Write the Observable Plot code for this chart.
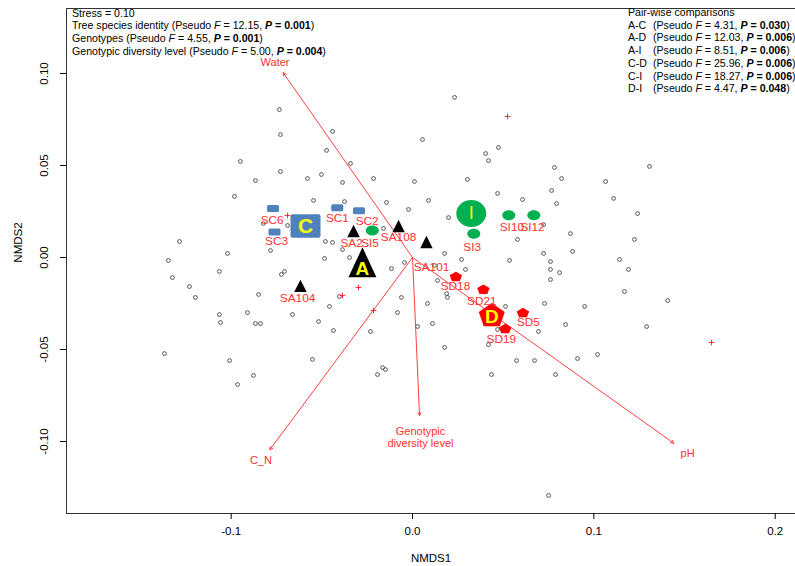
<!DOCTYPE html>
<html><head><meta charset="utf-8">
<script src="https://cdn.jsdelivr.net/npm/d3@7"></script>
<script src="https://cdn.jsdelivr.net/npm/@observablehq/plot@0.6"></script>
<style>
html,body{margin:0;padding:0;background:#fff;overflow:hidden;}
#wrap{position:relative;width:795px;height:566px;overflow:hidden;font-family:"Liberation Sans",Arial,sans-serif;}
.note{position:absolute;font-size:10.6px;line-height:12.7px;color:#000;white-space:nowrap;}
.note .lab{display:inline-block;width:25px;}
</style></head>
<body><div id="wrap"></div>
<script>
// ---- data ----
const siteX = [-0.0734,-0.0728,-0.0441,-0.0474,-0.0949,-0.0728,-0.0342,-0.0866,-0.0579,-0.0502,-0.0386,-0.0215,-0.0982,-0.0546,-0.0375,-0.0143,-0.0022,0.0011,-0.0822,-0.0689,-0.0480,-0.0441,-0.0160,-0.1285,-0.1020,-0.0783,-0.0386,-0.0485,-0.0347,-0.1346,-0.1065,-0.0723,-0.0706,-0.1324,-0.0116,-0.0044,-0.1230,-0.1197,-0.0849,-0.1065,-0.1059,-0.0910,-0.0866,-0.0838,-0.0662,-0.0518,-0.0458,-0.0403,-0.0436,-0.0232,-0.0061,-0.0083,-0.1368,-0.1009,-0.0877,-0.0965,-0.0552,-0.0193,-0.0165,-0.0149,0.0232,0.0055,0.0403,0.0419,0.0474,0.0783,0.0822,0.0303,0.1065,0.1307,0.0469,0.0607,0.0767,0.0794,0.1109,0.1241,0.0088,0.0199,0.0723,0.0871,0.0579,0.1224,0.0723,0.0883,0.0177,0.0121,0.0270,0.0292,0.0535,0.0761,0.0761,0.0811,0.1142,0.1191,0.0761,0.0138,0.0188,0.0193,0.0083,0.0028,0.0110,0.0177,0.0513,0.0728,0.0949,0.1169,0.1407,0.0844,0.0695,0.1291,0.0469,0.0419,0.0574,0.0673,0.0910,0.1020,0.0436,0.0789,0.0750];
const siteY = [0.0804,0.0668,0.0685,0.0582,0.0522,0.0467,0.0511,0.0418,0.0429,0.0451,0.0408,0.0429,0.0332,0.0310,0.0304,0.0299,0.0261,0.0413,0.0185,0.0174,0.0087,0.0082,0.0158,0.0087,0.0022,0.0038,0.0043,-0.0005,0.0000,-0.0016,-0.0076,-0.0092,-0.0076,-0.0109,-0.0060,-0.0027,-0.0158,-0.0217,-0.0201,-0.0310,-0.0353,-0.0299,-0.0359,-0.0359,-0.0310,-0.0348,-0.0266,-0.0212,-0.0397,-0.0402,-0.0217,-0.0299,-0.0522,-0.0560,-0.0641,-0.0690,-0.0554,-0.0636,-0.0598,-0.0609,0.0870,0.0641,0.0565,0.0527,0.0598,0.0489,0.0429,0.0424,0.0413,0.0495,0.0348,0.0315,0.0364,0.0293,0.0321,0.0239,0.0310,0.0217,0.0179,0.0130,0.0098,0.0098,0.0022,0.0033,0.0022,-0.0043,-0.0011,-0.0065,-0.0016,-0.0022,-0.0065,-0.0082,-0.0011,-0.0065,-0.0120,-0.0125,-0.0196,-0.0217,-0.0250,-0.0375,-0.0359,-0.0489,-0.0266,-0.0250,-0.0266,-0.0185,-0.0234,-0.0364,-0.0402,-0.0375,-0.0391,-0.0473,-0.0560,-0.0560,-0.0549,-0.0527,-0.0636,-0.0636,-0.1293];

const plusX = [-0.0689,0.0524,0.1649,-0.0298,-0.0215,-0.0386];
const plusY = [0.0228,0.0766,-0.0462,-0.0163,-0.0288,-0.0207];

const sampleNames = ["SC6","SC3","SC1","SC2","SA2","SA108","SA104","SA101","SI5","SI3","SI10","SI12","SD18","SD21","SD5","SD19"];
const sampleX = [-0.0769,-0.0761,-0.0415,-0.0295,-0.0325,-0.0077,-0.0618,0.0077,-0.0222,0.0338,0.0531,0.0669,0.0239,0.0391,0.0609,0.0511];
const sampleY = [0.0266,0.0139,0.0270,0.0254,0.0144,0.0171,-0.0154,0.0084,0.0147,0.0129,0.0230,0.0230,-0.0103,-0.0172,-0.0299,-0.0386];
const sampleLabelX = [-0.0774,-0.0750,-0.0414,-0.0250,-0.0336,-0.0077,-0.0634,0.0105,-0.0234,0.0329,0.0548,0.0662,0.0237,0.0382,0.0639,0.0490];
const sampleLabelY = [0.0203,0.0090,0.0212,0.0198,0.0075,0.0111,-0.0221,-0.0054,0.0079,0.0056,0.0165,0.0165,-0.0158,-0.0235,-0.0353,-0.0442];

const groupNames = ["C","A","I","D"];
const groupX = [-0.0590,-0.0276,0.0324,0.0437];
const groupY = [0.0171,-0.0026,0.0239,-0.0311];

const envNames = ["Water","C_N","Genotypic\ndiversity level","pH"];
const envX = [-0.0713,-0.0787,0.0039,0.1441];
const envY = [0.1004,-0.1045,-0.0859,-0.1009];
const envLabelX = [-0.0758,-0.0836,0.0044,0.1517];
const envLabelY = [0.1060,-0.1103,-0.0978,-0.1065];

const xTicks = [-0.1,0,0.1,0.2];
const yTicks = [-0.10,-0.05,0,0.05,0.10];

const statLabels = ["Stress = 0.10","Tree species identity","Genotypes","Genotypic diversity level"];
const statF = [null,"12.15","4.55","5.00"];
const statP = [null,"0.001","0.001","0.004"];
const pairNames = ["A-C","A-D","A-I","C-D","C-I","D-I"];
const pairF = ["4.31","12.03","8.51","25.96","18.27","4.47"];
const pairP = ["0.030","0.006","0.006","0.006","0.006","0.048"];

// ---- colours ----
const BLUE = "#4F81BD", GREEN = "#00B050", RED = "#FF0000", LABRED = "#FF3030", YELLOW = "#FFFF00";

// ---- custom marker shapes (r = half width) ----
function rectSym(aspect, c) {
  return {draw(ctx, size) {
    const w = Math.sqrt(size / Math.PI), h = w * aspect;
    ctx.moveTo(-w + c, -h);
    ctx.arcTo(w, -h, w, h, c); ctx.arcTo(w, h, -w, h, c);
    ctx.arcTo(-w, h, -w, -h, c); ctx.arcTo(-w, -h, w, -h, c);
    ctx.closePath();
  }};
}
function triSym(aspect) {
  return {draw(ctx, size) {
    const w = Math.sqrt(size / Math.PI), h = w * aspect;
    ctx.moveTo(0, -h); ctx.lineTo(w, h); ctx.lineTo(-w, h); ctx.closePath();
  }};
}
function ellSym(aspect) {
  return {draw(ctx, size) {
    const rx = Math.sqrt(size / Math.PI), ry = rx * aspect, k = 0.5523;
    ctx.moveTo(rx, 0);
    ctx.bezierCurveTo(rx, ry * k, rx * k, ry, 0, ry);
    ctx.bezierCurveTo(-rx * k, ry, -rx, ry * k, -rx, 0);
    ctx.bezierCurveTo(-rx, -ry * k, -rx * k, -ry, 0, -ry);
    ctx.bezierCurveTo(rx * k, -ry, rx, -ry * k, rx, 0);
    ctx.closePath();
  }};
}
function pentSym(vs) {
  return {draw(ctx, size) {
    const w = Math.sqrt(size / Math.PI), R = w / Math.sin(72 * Math.PI / 180);
    const shift = 0.0955 * R * vs;
    for (let k = 0; k < 5; k++) {
      const a = (-90 + 72 * k) * Math.PI / 180;
      const px = R * Math.cos(a), py = R * Math.sin(a) * vs + shift;
      k ? ctx.lineTo(px, py) : ctx.moveTo(px, py);
    }
    ctx.closePath();
  }};
}

const sites = siteX.map((x, i) => ({x, y: siteY[i]}));
const pluses = plusX.map((x, i) => ({x, y: plusY[i]}));
const samples = sampleNames.map((name, i) => ({name, group: name[1], x: sampleX[i], y: sampleY[i], lx: sampleLabelX[i], ly: sampleLabelY[i]}));
const groups = groupNames.map((g, i) => ({group: g, x: groupX[i], y: groupY[i]}));
const envs = envNames.map((name, i) => ({name, x: envX[i], y: envY[i], lx: envLabelX[i], ly: envLabelY[i]}));
const sg = g => samples.filter(d => d.group === g);
const gg = g => groups.filter(d => d.group === g);

const xDomain = [-0.1908, 0.2112], yDomain = [-0.1391, 0.1353];

const chart = Plot.plot({
  width: 795, height: 566,
  marginLeft: 66, marginRight: 0, marginTop: 8, marginBottom: 53,
  x: {domain: xDomain},
  y: {domain: yDomain},
  style: {fontFamily: "'Liberation Sans', Arial, sans-serif", background: "#fff", color: "#000"},
  marks: [
    Plot.ruleX([xDomain[0]], {stroke: "#333"}),
    Plot.ruleY([yDomain[0], yDomain[1]], {stroke: "#333"}),
    Plot.axisX({ticks: xTicks, tickSize: 6, tickPadding: 7, fontSize: 11.5, tickFormat: d => d.toFixed(1), label: null}),
    Plot.axisY({ticks: yTicks, tickSize: 6, tickFormat: () => "", label: null}),
    Plot.text(yTicks, {y: d => d, frameAnchor: "left", dx: -22, rotate: -90, textAnchor: "middle", lineAnchor: "middle", text: d => d.toFixed(2), fontSize: 11.5}),
    Plot.text(["NMDS1"], {frameAnchor: "bottom", dy: 45, lineAnchor: "middle", textAnchor: "middle", fontSize: 11.5}),
    Plot.text(["NMDS2"], {frameAnchor: "top-left", dx: -48, dy: 234, rotate: -90, textAnchor: "middle", lineAnchor: "middle", fontSize: 11.5}),
    // site scores
    Plot.dot(sites, {x: "x", y: "y", r: 1.9, stroke: "#444", strokeWidth: 0.9, fill: "none"}),
    // environmental vectors
    Plot.arrow(envs, {x1: () => 0, y1: () => 0, x2: "x", y2: "y", stroke: "#FF4040", strokeWidth: 1, headLength: 5, headAngle: 55}),
    Plot.dot(pluses, {x: "x", y: "y", r: 2, symbol: "plus", stroke: RED, strokeWidth: 0.8}),
    // samples
    Plot.dot(sg("C"), {x: "x", y: "y", r: 6, symbol: rectSym(0.583, 1.5), fill: BLUE}),
    Plot.dot(sg("A"), {x: "x", y: "y", r: 6.25, symbol: triSym(0.99), fill: "#000"}),
    Plot.dot(sg("I"), {x: "x", y: "y", r: 6.5, symbol: ellSym(0.77), fill: GREEN}),
    Plot.dot(sg("D"), {x: "x", y: "y", r: 6.25, symbol: pentSym(0.8), fill: RED}),
    // group centroids
    Plot.dot(gg("C"), {x: "x", y: "y", r: 15, symbol: rectSym(0.78, 2), fill: BLUE}),
    Plot.dot(gg("A"), {x: "x", y: "y", r: 14, symbol: triSym(1.07), fill: "#000"}),
    Plot.dot(gg("I"), {x: "x", y: "y", r: 15, symbol: ellSym(0.9), fill: GREEN}),
    Plot.dot(gg("D"), {x: "x", y: "y", r: 13, symbol: pentSym(0.94), fill: RED}),
    Plot.text(gg("C"), {x: "x", y: "y", text: "group", fill: YELLOW, fontSize: 21, fontWeight: "bold"}),
    Plot.text(gg("A"), {x: "x", y: "y", text: "group", fill: YELLOW, fontSize: 19, fontWeight: "bold", dy: 7}),
    Plot.text(gg("I"), {x: "x", y: "y", text: "group", fill: YELLOW, fontSize: 18}),
    Plot.text(gg("D"), {x: "x", y: "y", text: "group", fill: YELLOW, fontSize: 19, fontWeight: "bold", dy: 2}),
    // labels
    Plot.text(samples, {x: "lx", y: "ly", text: "name", fill: LABRED, fontSize: 11.8}),
    Plot.text(envs, {x: "lx", y: "ly", text: "name", fill: LABRED, fontSize: 11, lineHeight: 1.1})
  ]
});

const wrap = document.getElementById("wrap");
wrap.appendChild(chart);

const left = document.createElement("div");
left.className = "note";
left.style.left = "72px"; left.style.top = "6.7px";
left.innerHTML = statLabels.map((l, i) => statF[i] == null ? l :
  `${l} (Pseudo <i>F</i> = ${statF[i]}, <b><i>P</i> = ${statP[i]}</b>)`).join("<br>");
wrap.appendChild(left);

const right = document.createElement("div");
right.className = "note";
right.style.left = "628px"; right.style.top = "6px";
right.innerHTML = ["Pair-wise comparisons"].concat(pairNames.map((n, i) =>
  `<span class="lab">${n}</span>(Pseudo <i>F</i> = ${pairF[i]}, <b><i>P</i> = ${pairP[i]}</b>)`)).join("<br>");
wrap.appendChild(right);
</script></body></html>
